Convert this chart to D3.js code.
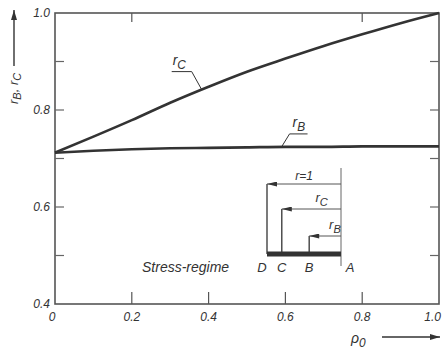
<!DOCTYPE html>
<html>
<head>
<meta charset="utf-8">
<script src="https://cdn.jsdelivr.net/npm/d3@7"></script>
<style>
  html, body { margin: 0; padding: 0; background: #fff; }
  svg { display: block; }
  text { font-family: "Liberation Sans", Arial, sans-serif; font-style: italic; fill: #333; }
</style>
</head>
<body>
<svg id="chart" width="442" height="351"></svg>
<script>
// Relative stress radii versus rho_0
const rho = [0, 0.1, 0.2, 0.3, 0.4, 0.5, 0.6, 0.7, 0.8, 0.9, 1.0];
const rC  = [0.712, 0.745, 0.779, 0.815, 0.848, 0.879, 0.906, 0.932, 0.956, 0.979, 1.0];
const rB  = [0.712, 0.716, 0.719, 0.721, 0.722, 0.723, 0.724, 0.724, 0.725, 0.725, 0.725];

// Axis ticks
const xTickLabels = [0, 0.2, 0.4, 0.6, 0.8, 1.0];
const yTickLabels = [0.4, 0.6, 0.8, 1.0];
const xInnerTicks = [0.2, 0.4, 0.6, 0.8];
const xTopTicks   = [0.2, 0.8];
const ySideTicks  = [0.5, 0.6, 0.7, 0.8, 0.9];

// Stress-regime sketch: radius of each point, measured from A
const regimePoints = ["D", "C", "B", "A"];
const regimeRadius = [1.0, 0.80, 0.43, 0.0];
const regimeArrows = [
  { from: "A", to: "D", label: "r", sub: null, suffix: "=1" },
  { from: "A", to: "C", label: "r", sub: "C" },
  { from: "A", to: "B", label: "r", sub: "B" }
];

const svg = d3.select("#chart");
const ink = "#333";

const x = d3.scaleLinear().domain([0, 1]).range([55, 439]);
const y = d3.scaleLinear().domain([0.4, 1.0]).range([304, 13]);

// Frame
svg.append("rect")
  .attr("x", x(0)).attr("y", y(1))
  .attr("width", x(1) - x(0)).attr("height", y(0.4) - y(1))
  .attr("fill", "none").attr("stroke", "#555").attr("stroke-width", 1.6);

// Inward ticks
const tl = 9;
svg.append("g").selectAll("line").data(xInnerTicks).join("line")
  .attr("x1", d => x(d)).attr("x2", d => x(d))
  .attr("y1", y(0.4)).attr("y2", y(0.4) - 12)
  .attr("stroke", "#555").attr("stroke-width", 1.2);
svg.append("g").selectAll("line").data(xTopTicks).join("line")
  .attr("x1", d => x(d)).attr("x2", d => x(d))
  .attr("y1", y(1)).attr("y2", y(1) + tl)
  .attr("stroke", "#555").attr("stroke-width", 1.2);
svg.append("g").selectAll("line").data(ySideTicks).join("line")
  .attr("x1", x(0)).attr("x2", x(0) + tl)
  .attr("y1", d => y(d)).attr("y2", d => y(d))
  .attr("stroke", "#666").attr("stroke-width", 1.2);
svg.append("g").selectAll("line").data(ySideTicks).join("line")
  .attr("x1", x(1)).attr("x2", x(1) - tl)
  .attr("y1", d => y(d)).attr("y2", d => y(d))
  .attr("stroke", "#666").attr("stroke-width", 1.2);

// Tick labels
const fmt = d => d === 0 ? "0" : d3.format(".1f")(d);
svg.append("g").selectAll("text").data(xTickLabels).join("text")
  .attr("x", d => d === 0 ? x(d) - 3 : d === 1 ? 441 : x(d))
  .attr("y", 321)
  .attr("text-anchor", d => d === 1 ? "end" : "middle")
  .attr("font-size", 12)
  .text(fmt);
svg.append("g").selectAll("text").data(yTickLabels).join("text")
  .attr("x", 50)
  .attr("y", d => y(d) + 4)
  .attr("text-anchor", "end")
  .attr("font-size", 12)
  .text(fmt);

// Curves
const line = d3.line().x(d => x(d[0])).y(d => y(d[1])).curve(d3.curveMonotoneX);
svg.append("path").datum(rho.map((r, i) => [r, rC[i]]))
  .attr("d", line).attr("fill", "none").attr("stroke", ink).attr("stroke-width", 2.6);
svg.append("path").datum(rho.map((r, i) => [r, rB[i]]))
  .attr("d", line).attr("fill", "none").attr("stroke", ink).attr("stroke-width", 2.6);

function subLabel(g, px, py, main, sub, size) {
  const t = g.append("text").attr("x", px).attr("y", py).attr("font-size", size);
  t.append("tspan").text(main);
  if (sub) t.append("tspan").attr("dy", size * 0.3).attr("font-size", size * 0.85).text(sub);
  return t;
}

// Curve labels with leader lines
const interp = (arr, r) => d3.scaleLinear().domain(rho).range(arr)(r);
{
  const r0 = 0.382, px = x(r0), py = y(interp(rC, r0));
  svg.append("path")
    .attr("d", `M${px - 30},${py - 18} H${px - 10} L${px},${py}`)
    .attr("fill", "none").attr("stroke", ink).attr("stroke-width", 1);
  subLabel(svg, px - 29, py - 25, "r", "C", 14);
}
{
  const r0 = 0.59, px = x(r0), py = y(interp(rB, r0));
  svg.append("path")
    .attr("d", `M${px},${py} L${px + 8},${py - 13} H${px + 26}`)
    .attr("fill", "none").attr("stroke", ink).attr("stroke-width", 1);
  subLabel(svg, px + 11, py - 20, "r", "B", 14);
}

// Axis titles with arrows
svg.append("defs").append("marker")
  .attr("id", "head").attr("viewBox", "0 0 10 6").attr("refX", 10).attr("refY", 3)
  .attr("markerWidth", 10).attr("markerHeight", 6).attr("markerUnits", "userSpaceOnUse")
  .attr("orient", "auto")
  .append("path").attr("d", "M0,0 L10,3 L0,6 Z").attr("fill", ink);

svg.append("line").attr("x1", 14).attr("x2", 14).attr("y1", 66).attr("y2", 10)
  .attr("stroke", ink).attr("stroke-width", 1.4).attr("marker-end", "url(#head)");
{
  const t = svg.append("text").attr("transform", "translate(18,104) rotate(-90)")
    .attr("font-size", 13);
  t.append("tspan").text("r");
  t.append("tspan").attr("dy", 3).attr("font-size", 11).text("B");
  t.append("tspan").attr("dy", -3).text(", r");
  t.append("tspan").attr("dy", 3).attr("font-size", 11).text("C");
}

svg.append("line").attr("x1", 382).attr("x2", 440).attr("y1", 337).attr("y2", 337)
  .attr("stroke", ink).attr("stroke-width", 1.4).attr("marker-end", "url(#head)");
subLabel(svg, 351, 343, "ρ", "0", 14);

// Stress-regime sketch
const sx = d3.scaleLinear().domain([0, 1]).range([341, 267]);
const pos = Object.fromEntries(regimePoints.map((p, i) => [p, sx(regimeRadius[i])]));
const barY = 254;
const arrowY = { D: 184, C: 209, B: 236 };
const g = svg.append("g");

// radial lines from the bar up to each arrow
["D", "C", "B"].forEach(p => {
  g.append("line").attr("x1", pos[p]).attr("x2", pos[p])
    .attr("y1", barY).attr("y2", arrowY[p])
    .attr("stroke", ink).attr("stroke-width", 1.3);
});
// reference line through A
g.append("line").attr("x1", pos.A).attr("x2", pos.A).attr("y1", 168).attr("y2", 266)
  .attr("stroke", "#666").attr("stroke-width", 1);
// thick bar D..A
g.append("line").attr("x1", pos.D).attr("x2", pos.A).attr("y1", barY).attr("y2", barY)
  .attr("stroke", ink).attr("stroke-width", 5);

g.append("defs").append("marker")
  .attr("id", "head2").attr("viewBox", "0 0 12 6").attr("refX", 0).attr("refY", 3)
  .attr("markerWidth", 12).attr("markerHeight", 5).attr("markerUnits", "userSpaceOnUse")
  .attr("orient", "auto")
  .append("path").attr("d", "M0,3 L12,0 L12,6 Z").attr("fill", ink);

regimeArrows.forEach(a => {
  const yy = arrowY[a.to];
  g.append("line").attr("x1", pos[a.to]).attr("x2", pos[a.from])
    .attr("y1", yy).attr("y2", yy)
    .attr("stroke", "#555").attr("stroke-width", 1)
    .attr("marker-start", "url(#head2)");
  const mid = (pos[a.to] + pos[a.from]) / 2;
  if (a.sub) {
    subLabel(g, mid + 4, yy - 7, a.label, a.sub, 13);
  } else {
    g.append("text").attr("x", mid).attr("y", yy - 4).attr("text-anchor", "middle")
      .attr("font-size", 12).text(a.label + a.suffix);
  }
});

regimePoints.forEach(p => {
  g.append("text").attr("x", pos[p] + (p === "A" ? 9 : p === "D" ? -5 : 0)).attr("y", 272)
    .attr("text-anchor", "middle").attr("font-size", 13).text(p);
});
g.append("text").attr("x", 142).attr("y", 272).attr("font-size", 14).text("Stress-regime");
</script>
</body>
</html>
